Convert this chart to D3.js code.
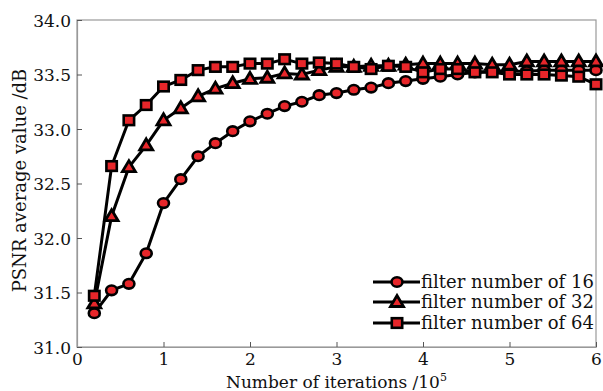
<!DOCTYPE html>
<html>
<head>
<meta charset="utf-8">
<script src="https://cdn.jsdelivr.net/npm/d3@7"></script>
<style>
  body { margin: 0; background: #fff; }
  text { font-family: "DejaVu Serif", serif; }
</style>
</head>
<body>
<svg id="chart" width="603" height="391"></svg>
<script>
// Data
const iterations = [0.2, 0.4, 0.6, 0.8, 1.0, 1.2, 1.4, 1.6, 1.8, 2.0,
                    2.2, 2.4, 2.6, 2.8, 3.0, 3.2, 3.4, 3.6, 3.8, 4.0,
                    4.2, 4.4, 4.6, 4.8, 5.0, 5.2, 5.4, 5.6, 5.8, 6.0];
const psnr16 = [31.31, 31.52, 31.58, 31.86, 32.32, 32.54, 32.75, 32.87, 32.98, 33.07,
                33.14, 33.21, 33.25, 33.31, 33.33, 33.36, 33.38, 33.42, 33.44, 33.46,
                33.48, 33.50, 33.52, 33.53, 33.53, 33.53, 33.54, 33.54, 33.54, 33.54];
const psnr32 = [31.40, 32.20, 32.65, 32.85, 33.08, 33.19, 33.30, 33.37, 33.42, 33.46,
                33.47, 33.51, 33.50, 33.54, 33.57, 33.57, 33.58, 33.58, 33.59, 33.60,
                33.60, 33.60, 33.60, 33.59, 33.59, 33.62, 33.62, 33.62, 33.62, 33.62];
const psnr64 = [31.47, 32.66, 33.08, 33.22, 33.39, 33.45, 33.54, 33.57, 33.57, 33.60,
                33.60, 33.64, 33.60, 33.61, 33.60, 33.57, 33.55, 33.58, 33.57, 33.52,
                33.55, 33.55, 33.52, 33.52, 33.50, 33.50, 33.50, 33.49, 33.48, 33.41];
const seriesNames = ["filter number of 16", "filter number of 32", "filter number of 64"];
const seriesMarkers = ["circle", "triangle", "square"];
const xTicks = [0, 1, 2, 3, 4, 5, 6];
const yTicks = [31.0, 31.5, 32.0, 32.5, 33.0, 33.5, 34.0];

// Display settings
const margin = {left: 77, top: 20, right: 7, bottom: 44};
const width = 603, height = 391;
const red = "#e8262a";

const svg = d3.select("#chart");
const x = d3.scaleLinear().domain([0, 6]).range([margin.left, width - margin.right]);
const y = d3.scaleLinear().domain([31, 34]).range([height - margin.bottom, margin.top]);

// Frame
svg.append("rect")
    .attr("x", x(0)).attr("y", y(34))
    .attr("width", x(6) - x(0)).attr("height", y(31) - y(34))
    .attr("fill", "none").attr("stroke", "#999").attr("stroke-width", 1.2);

// Axes
const xAxis = svg.append("g")
    .attr("transform", `translate(0,${y(31)})`)
    .call(d3.axisBottom(x).tickValues(xTicks).tickFormat(d3.format("d")).tickSizeInner(-5).tickSizeOuter(0).tickPadding(6));
const yAxis = svg.append("g")
    .attr("transform", `translate(${x(0)},0)`)
    .call(d3.axisLeft(y).tickValues(yTicks).tickFormat(d3.format(".1f")).tickSizeInner(-5).tickSizeOuter(0).tickPadding(6));
[xAxis, yAxis].forEach(g => {
    g.select(".domain").attr("stroke", "#999").attr("stroke-width", 1.2);
    g.selectAll(".tick line").attr("stroke", "#555");
    g.selectAll(".tick text")
        .attr("fill", "#111")
        .style("font-family", "'DejaVu Serif', serif")
        .style("font-size", "17px");
});
yAxis.selectAll(".tick text").attr("dy", "0.36em");
xAxis.selectAll(".tick text").attr("dy", "0.7em");

// Axis titles
svg.append("text")
    .attr("x", (x(0) + x(6)) / 2)
    .attr("y", 388)
    .attr("text-anchor", "middle")
    .style("font-size", "17px")
    .attr("fill", "#111")
    .html('Number of iterations /10<tspan dy="-7" font-size="11px">5</tspan>');

svg.append("text")
    .attr("transform", `translate(26,${(y(31) + y(34)) / 2 - 3}) rotate(-90)`)
    .attr("text-anchor", "middle")
    .style("font-size", "18px")
    .attr("fill", "#111")
    .text("PSNR average value /dB");

// Markers
function drawMarker(g, type, cx, cy) {
    if (type === "circle") {
        g.append("ellipse").attr("cx", cx).attr("cy", cy).attr("rx", 5.5).attr("ry", 4.8)
            .attr("fill", red).attr("stroke", "#000").attr("stroke-width", 2.6);
    } else if (type === "square") {
        g.append("rect").attr("x", cx - 5.2).attr("y", cy - 4.8).attr("width", 10.4).attr("height", 9.6)
            .attr("fill", red).attr("stroke", "#000").attr("stroke-width", 2.6);
    } else {
        g.append("path")
            .attr("d", `M${cx},${cy - 6.5} L${cx + 6.5},${cy + 4.5} L${cx - 6.5},${cy + 4.5} Z`)
            .attr("fill", red).attr("stroke", "#000").attr("stroke-width", 2.8)
            .attr("stroke-linejoin", "miter");
    }
}

const line = d3.line().x(d => x(d[0])).y(d => y(d[1]));
const allSeries = [psnr16, psnr32, psnr64];

allSeries.forEach((vals, i) => {
    const pts = iterations.map((it, j) => [it, vals[j]]);
    const g = svg.append("g");
    g.append("path")
        .datum(pts)
        .attr("d", line)
        .attr("fill", "none")
        .attr("stroke", "#000")
        .attr("stroke-width", 3);
    pts.forEach(p => drawMarker(g, seriesMarkers[i], x(p[0]), y(p[1])));
});

// Legend
const legendY = [282, 302, 323];
seriesNames.forEach((name, i) => {
    const g = svg.append("g");
    g.append("line")
        .attr("x1", 373).attr("x2", 420)
        .attr("y1", legendY[i]).attr("y2", legendY[i])
        .attr("stroke", "#000").attr("stroke-width", 3);
    drawMarker(g, seriesMarkers[i], 397, legendY[i]);
    g.append("text")
        .attr("x", 421)
        .attr("y", legendY[i])
        .attr("dy", "0.35em")
        .style("font-size", "18px")
        .attr("fill", "#111")
        .text(name);
});
</script>
</body>
</html>
